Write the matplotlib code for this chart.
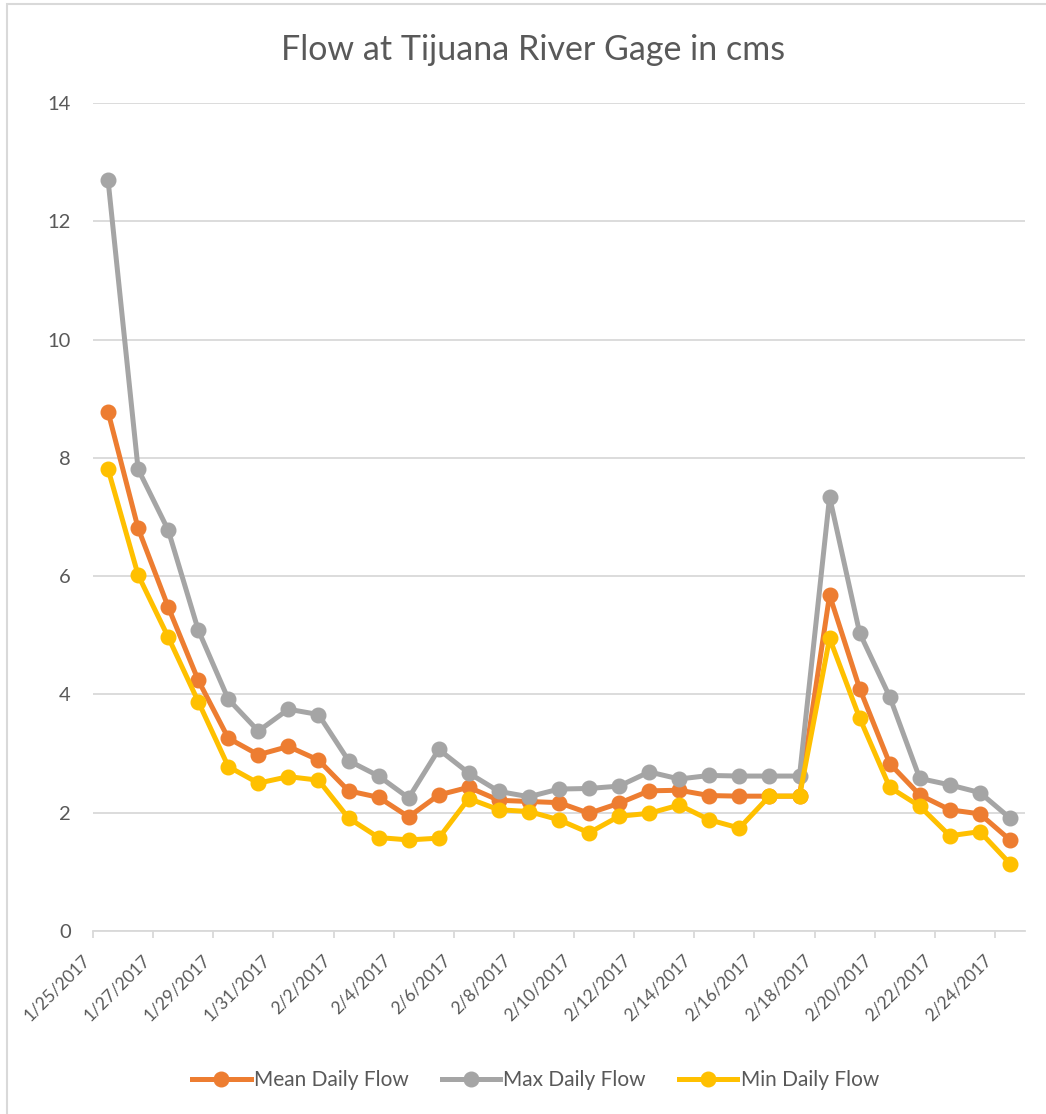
import matplotlib.pyplot as plt
from matplotlib.patches import Rectangle
import matplotlib.transforms as mtransforms

plt.rcParams['font.family'] = ['Lato', 'DejaVu Sans']

# data, one value per day starting 1/25/2017
days = list(range(31))
tick_labels = ['1/25/2017', '1/27/2017', '1/29/2017', '1/31/2017', '2/2/2017',
               '2/4/2017', '2/6/2017', '2/8/2017', '2/10/2017', '2/12/2017',
               '2/14/2017', '2/16/2017', '2/18/2017', '2/20/2017', '2/22/2017',
               '2/24/2017']

mean_flow = [8.78, 6.81, 5.48, 4.24, 3.26, 2.98, 3.12, 2.89, 2.37, 2.26,
             1.93, 2.30, 2.43, 2.21, 2.19, 2.17, 1.99, 2.16, 2.37, 2.38,
             2.29, 2.28, 2.28, 2.28, 5.68, 4.10, 2.83, 2.30, 2.05, 1.98, 1.54]
max_flow = [12.70, 7.81, 6.78, 5.09, 3.92, 3.38, 3.75, 3.66, 2.88, 2.62,
            2.25, 3.07, 2.67, 2.36, 2.27, 2.40, 2.41, 2.45, 2.69, 2.57,
            2.63, 2.62, 2.62, 2.62, 7.34, 5.04, 3.96, 2.58, 2.47, 2.34, 1.91]
min_flow = [7.81, 6.02, 4.97, 3.88, 2.78, 2.50, 2.61, 2.55, 1.91, 1.58,
            1.54, 1.57, 2.24, 2.05, 2.02, 1.88, 1.66, 1.94, 1.99, 2.13,
            1.88, 1.74, 2.28, 2.28, 4.95, 3.60, 2.43, 2.11, 1.61, 1.68, 1.14]

text_col = '#595959'
grid_col = '#d9d9d9'

fig = plt.figure(figsize=(10.46, 11.14), dpi=100)
# chart area border (right and bottom edges fall outside the picture)
fig.patches.append(Rectangle((7 / 1046, -0.01), 1.01, 1 - 4 / 1114 + 0.01,
                             transform=fig.transFigure, fill=False,
                             edgecolor=grid_col, linewidth=1.5))
ax = fig.add_axes([93 / 1046, 1 - 931 / 1114, 932 / 1046, 828 / 1114])

x = [d + 0.5 for d in days]
ax.plot(x, mean_flow, color='#ED7D31', lw=3.6, marker='o', ms=10.5, label='Mean Daily Flow', zorder=3)
ax.plot(x, max_flow, color='#A5A5A5', lw=3.6, marker='o', ms=10.5, label='Max Daily Flow', zorder=4)
ax.plot(x, min_flow, color='#FFC000', lw=3.6, marker='o', ms=10.5, label='Min Daily Flow', zorder=5)

ax.set_xlim(0, 31)
ax.set_ylim(0, 14)
ax.set_yticks(range(0, 15, 2))
ax.set_xticks(range(0, 31, 2))
ax.set_xticklabels(tick_labels, rotation=45, ha='right', va='top')
offset = mtransforms.ScaledTranslation(15 / 100, 0, fig.dpi_scale_trans)
for lab in ax.get_xticklabels():
    lab.set_transform(lab.get_transform() + offset)

ax.grid(axis='y', color=grid_col, lw=1.3)
ax.set_axisbelow(True)
for s in ['top', 'right', 'left']:
    ax.spines[s].set_visible(False)
ax.spines['bottom'].set_color(grid_col)
ax.spines['bottom'].set_linewidth(1.3)
ax.spines['bottom'].set_zorder(1)
ax.tick_params(axis='y', length=0, pad=16, labelsize=14.5, labelcolor=text_col)
ax.tick_params(axis='x', length=5, width=1.3, color=grid_col, pad=10,
               labelsize=12.5, labelcolor=text_col)

fig.text(0.51, 1 - 50 / 1114, 'Flow at Tijuana River Gage in cms',
         ha='center', va='center', fontsize=24.5, color=text_col)

fig.legend(loc='center', bbox_to_anchor=(0.512, 1 - 1080 / 1114), ncol=3,
           frameon=False, fontsize=15, labelcolor=text_col, handlelength=2.8,
           handletextpad=0.15, columnspacing=1.6)

fig.savefig('out.png', dpi=100)
